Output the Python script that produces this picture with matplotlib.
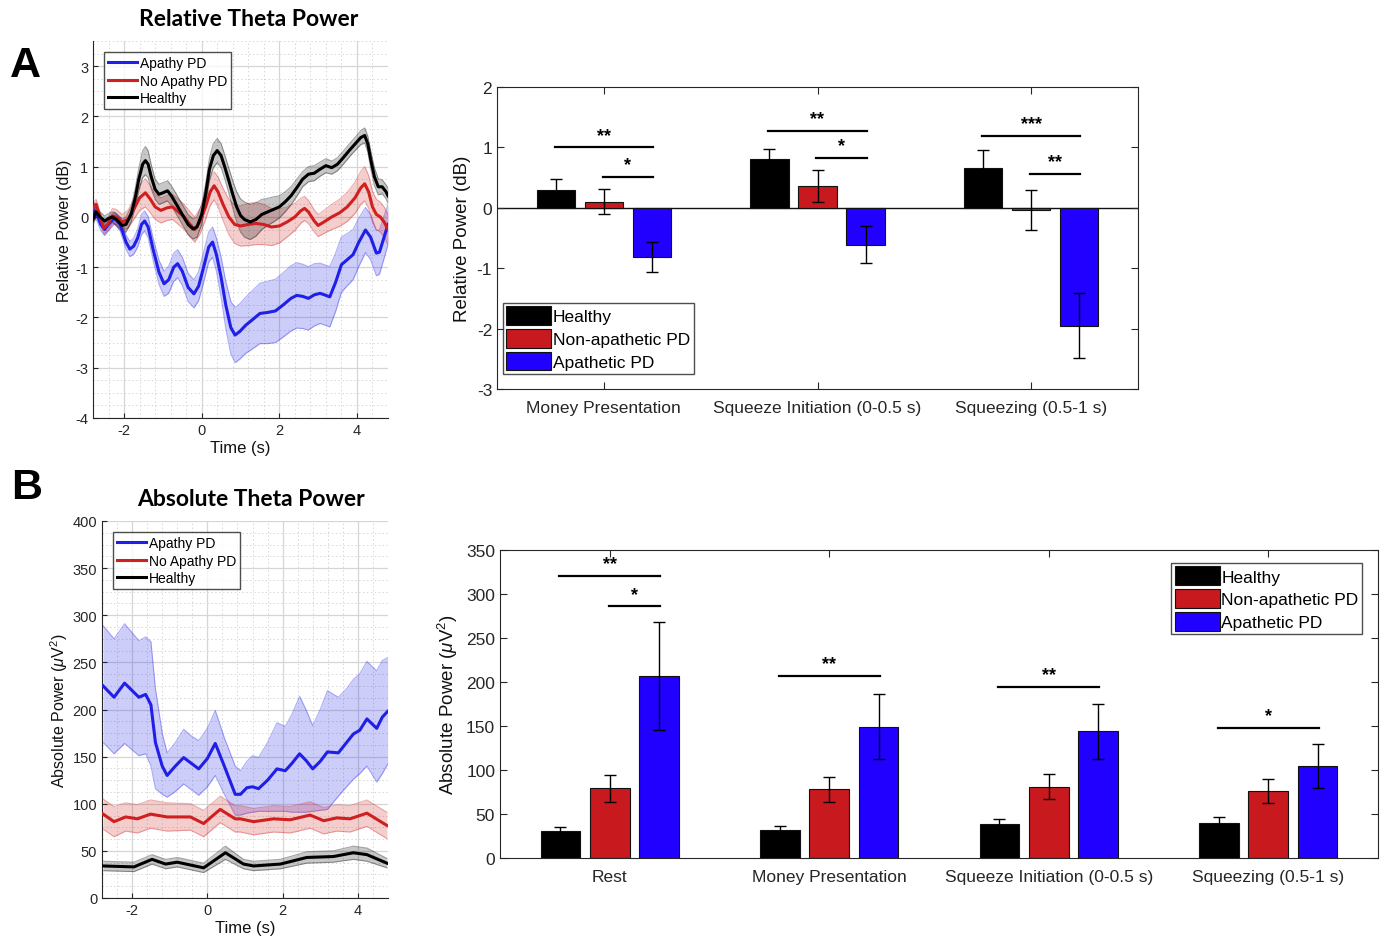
import numpy as np
import matplotlib
matplotlib.use('Agg')
import matplotlib.pyplot as plt
from matplotlib.ticker import MultipleLocator

plt.rcParams['font.family'] = ['Liberation Sans', 'DejaVu Sans']
plt.rcParams['mathtext.fontset'] = 'custom'
plt.rcParams['mathtext.rm'] = 'Liberation Sans'
plt.rcParams['mathtext.it'] = 'Liberation Sans:italic'
plt.rcParams['axes.unicode_minus'] = False

# colours
c_blue_line = '#1f1fe8'
c_red_line = '#d01f1f'
c_black = '#000000'
c_bar = ['#000000', '#c8191e', '#2200ff']
txt = '#262626'

# ---- A: relative theta power time courses (dB)
relA_black_t = [-2.8, -2.72, -2.62, -2.5, -2.4, -2.3, -2.2, -2.05, -1.95, -1.82, -1.72, -1.62, -1.52, -1.45,
                -1.38, -1.3, -1.2, -1.1, -1.0, -0.88, -0.78, -0.65, -0.5, -0.35, -0.22, -0.12, 0.0, 0.1,
                0.2, 0.3, 0.4, 0.5, 0.6, 0.7, 0.8, 0.9, 1.0, 1.1, 1.25, 1.4, 1.55, 1.7, 1.85, 2.0, 2.15,
                2.3, 2.45, 2.6, 2.75, 2.9, 3.05, 3.2, 3.35, 3.5, 3.65, 3.8, 3.95, 4.1, 4.2, 4.28, 4.36,
                4.45, 4.55, 4.65, 4.75, 4.8]
relA_black = [-0.05, 0.1, 0.0, -0.08, -0.03, 0.0, -0.05, -0.17, -0.15, 0.05, 0.35, 0.75, 1.05, 1.12,
              1.05, 0.8, 0.55, 0.45, 0.48, 0.52, 0.42, 0.25, 0.05, -0.15, -0.24, -0.2, 0.05, 0.45,
              0.95, 1.22, 1.32, 1.22, 0.98, 0.72, 0.45, 0.2, 0.03, -0.05, -0.1, -0.05, 0.05, 0.1, 0.15, 0.2, 0.3,
              0.42, 0.58, 0.75, 0.85, 0.87, 0.95, 1.02, 0.98, 1.05, 1.18, 1.32, 1.45, 1.58, 1.62, 1.45, 1.12,
              0.8, 0.6, 0.6, 0.5, 0.42]
relA_black_err = [0.1, 0.1, 0.1, 0.1, 0.1, 0.1, 0.12, 0.13, 0.15, 0.15, 0.18, 0.22, 0.27, 0.28,
                  0.27, 0.24, 0.2, 0.2, 0.2, 0.2, 0.2, 0.2, 0.2, 0.2, 0.2, 0.2, 0.2, 0.2,
                  0.22, 0.24, 0.24, 0.24, 0.24, 0.25, 0.27, 0.3, 0.33, 0.35, 0.35, 0.33, 0.3, 0.27, 0.25, 0.22, 0.2,
                  0.18, 0.17, 0.15, 0.15, 0.15, 0.14, 0.14, 0.13, 0.13, 0.13, 0.13, 0.13, 0.14, 0.15, 0.16, 0.18,
                  0.18, 0.16, 0.14, 0.14, 0.15]

relA_red_t = [-2.8, -2.72, -2.62, -2.52, -2.42, -2.3, -2.2, -2.05, -1.9, -1.75, -1.6, -1.45, -1.32, -1.2,
              -1.05, -0.9, -0.75, -0.6, -0.45, -0.3, -0.18, -0.05, 0.1, 0.22, 0.32, 0.42, 0.55, 0.7,
              0.85, 1.0, 1.2, 1.4, 1.6, 1.8, 2.0, 2.2, 2.4, 2.55, 2.65, 2.75, 2.9, 3.0, 3.15, 3.35,
              3.55, 3.75, 3.95, 4.1, 4.2, 4.3, 4.4, 4.5, 4.6, 4.7, 4.8]
relA_red = [0.17, 0.25, 0.0, -0.22, -0.15, 0.02, 0.0, -0.1, -0.05, 0.15, 0.38, 0.48, 0.35, 0.2,
            0.13, 0.18, 0.2, 0.1, 0.0, -0.15, -0.25, -0.1, 0.2, 0.5, 0.62, 0.5, 0.25, 0.0,
            -0.15, -0.18, -0.15, -0.13, -0.15, -0.2, -0.18, -0.1, 0.0, 0.12, 0.17, 0.1, -0.08, -0.17, -0.1, 0.0,
            0.08, 0.2, 0.38, 0.58, 0.66, 0.5, 0.2, 0.05, 0.0, -0.1, -0.25]
relA_red_err = [0.1, 0.1, 0.1, 0.12, 0.12, 0.15, 0.15, 0.15, 0.18, 0.2, 0.25, 0.28, 0.27, 0.25,
                0.25, 0.25, 0.25, 0.25, 0.25, 0.25, 0.25, 0.25, 0.25, 0.27, 0.28, 0.3, 0.32, 0.35,
                0.38, 0.4, 0.42, 0.42, 0.4, 0.37, 0.34, 0.3, 0.27, 0.25, 0.24, 0.23, 0.22, 0.22, 0.23, 0.25,
                0.27, 0.29, 0.31, 0.33, 0.34, 0.33, 0.31, 0.3, 0.3, 0.3, 0.3]

relA_blue_t = [-2.8, -2.7, -2.6, -2.5, -2.4, -2.25, -2.1, -1.95, -1.85, -1.75, -1.65, -1.55, -1.47, -1.38,
               -1.25, -1.1, -0.97, -0.85, -0.72, -0.62, -0.5, -0.35, -0.2, -0.08, 0.05, 0.18, 0.28, 0.38,
               0.5, 0.62, 0.75, 0.86, 0.98, 1.14, 1.3, 1.5, 1.7, 1.9, 2.1, 2.3, 2.45, 2.6, 2.75, 2.9,
               3.05, 3.2, 3.3, 3.45, 3.6, 3.75, 3.9, 4.05, 4.22, 4.35, 4.5, 4.58, 4.7, 4.8]
relA_blue = [0.17, 0.05, -0.15, -0.25, -0.15, -0.02, -0.15, -0.5, -0.64, -0.58, -0.42, -0.15, -0.08, -0.2,
             -0.65, -1.1, -1.33, -1.25, -1.0, -0.93, -1.08, -1.4, -1.53, -1.38, -1.0, -0.6, -0.5, -0.75,
             -1.2, -1.75, -2.2, -2.35, -2.28, -2.15, -2.05, -1.92, -1.9, -1.87, -1.75, -1.62, -1.56, -1.58, -1.62, -1.55,
             -1.52, -1.56, -1.59, -1.3, -0.95, -0.85, -0.75, -0.5, -0.26, -0.4, -0.72, -0.7, -0.4, -0.15]
relA_blue_err = [0.15, 0.13, 0.12, 0.12, 0.12, 0.12, 0.13, 0.14, 0.15, 0.16, 0.18, 0.2, 0.2, 0.21,
                 0.22, 0.24, 0.25, 0.27, 0.28, 0.28, 0.28, 0.28, 0.28, 0.29, 0.3, 0.3, 0.3, 0.33,
                 0.4, 0.47, 0.52, 0.55, 0.55, 0.56, 0.58, 0.6, 0.62, 0.63, 0.64, 0.65, 0.65, 0.64, 0.63, 0.62,
                 0.6, 0.6, 0.6, 0.58, 0.55, 0.52, 0.5, 0.48, 0.45, 0.45, 0.45, 0.44, 0.42, 0.4]

# ---- B: absolute theta power time courses (uV^2)
absB_blue_t = [-2.77, -2.48, -2.2, -1.82, -1.64, -1.5, -1.38, -1.2, -1.07, -0.85, -0.63, -0.43, -0.23, 0.0,
               0.21, 0.45, 0.74, 0.88, 1.05, 1.2, 1.36, 1.6, 1.85, 2.07, 2.25, 2.45, 2.62, 2.8, 3.0,
               3.19, 3.48, 3.7, 3.88, 4.05, 4.24, 4.5, 4.65, 4.79]
absB_blue = [225, 213, 228, 213, 216, 205, 165, 140, 130, 140, 149, 143, 137, 148,
             164, 140, 110, 110, 117, 118, 116, 125, 137, 135, 143, 153, 146, 137, 145,
             155, 154, 165, 174, 178, 190, 180, 192, 198]
absB_blue_hi = [289, 275, 291, 273, 277, 272, 222, 175, 154, 165, 179, 172, 167, 180,
                199, 170, 140, 135, 145, 151, 149, 165, 186, 182, 195, 214, 200, 183, 200,
                220, 213, 222, 232, 238, 251, 241, 252, 255]
absB_blue_lo = [165, 153, 164, 151, 153, 140, 116, 110, 107, 113, 121, 115, 109, 118,
                130, 110, 88, 88, 90, 91, 92, 92, 92, 92, 91, 91, 91, 92, 93,
                94, 108, 118, 126, 132, 140, 123, 132, 142]

absB_red_t = [-2.77, -2.48, -2.17, -1.86, -1.51, -1.07, -0.45, -0.1, 0.34, 0.74, 0.875, 1.23, 1.76, 2.2,
              2.73, 3.09, 3.44, 3.79, 4.24, 4.77]
absB_red = [89, 81, 86, 84, 89, 86, 86, 79, 94, 84, 84, 81, 84, 83, 88, 82, 85, 84, 90, 77]
absB_red_err = [16, 16, 15, 15, 15, 15, 14, 14, 14, 14, 14, 14, 14, 14, 14, 14, 14, 14, 14, 14]

absB_black_t = [-2.77, -1.95, -1.47, -1.11, -0.8, -0.1, 0.48, 0.96, 1.23, 1.94, 2.64, 3.35, 3.88, 4.24, 4.77]
absB_black = [34, 33, 41, 36, 38, 32, 48, 36, 34, 36, 43, 44, 48, 46, 37]
absB_black_err = [5, 5, 5, 5, 5, 5, 7, 5, 5, 5, 6, 6, 7, 7, 5]

# ---- bar data
groups = ['Healthy', 'Non-apathetic PD', 'Apathetic PD']

relBar_cats = ['Money Presentation', 'Squeeze Initiation (0-0.5 s)', 'Squeezing (0.5-1 s)']
relBar_healthy = [0.30, 0.80, 0.66]
relBar_healthy_err = [0.18, 0.18, 0.29]
relBar_nonap = [0.10, 0.36, -0.03]
relBar_nonap_err = [0.21, 0.27, 0.33]
relBar_apath = [-0.82, -0.61, -1.95]
relBar_apath_err = [0.25, 0.31, 0.54]
# significance: (category index, from-bar, to-bar, y, label)
relBar_sig = [(0, 0, 2, 1.00, '**'), (0, 1, 2, 0.51, '*'),
              (1, 0, 2, 1.27, '**'), (1, 1, 2, 0.83, '*'),
              (2, 0, 2, 1.19, '***'), (2, 1, 2, 0.56, '**')]

absBar_cats = ['Rest', 'Money Presentation', 'Squeeze Initiation (0-0.5 s)', 'Squeezing (0.5-1 s)']
absBar_healthy = [31, 32, 39, 40]
absBar_healthy_err = [4, 4, 5, 7]
absBar_nonap = [79, 78, 81, 76]
absBar_nonap_err = [15, 14, 14, 14]
absBar_apath = [207, 149, 144, 104]
absBar_apath_err = [61, 37, 31, 25]
absBar_sig = [(0, 0, 2, 321, '**'), (0, 1, 2, 286, '*'),
              (1, 0, 2, 207, '**'), (2, 0, 2, 194, '**'), (3, 0, 2, 148, '*')]

W, H = 1387, 945
fig = plt.figure(figsize=(W / 100, H / 100), dpi=100)


def frac(l, t, r, b):
    return [l / W, 1 - b / H, (r - l) / W, (b - t) / H]


def line_panel(ax, series, ylim, ymajor, yminor, ylabel):
    for t, v, lo, hi, col, lab in series:
        ax.fill_between(t, lo, hi, color=col, alpha=0.22, lw=0, zorder=2)
        ax.plot(t, hi, color=col, alpha=0.35, lw=0.8, zorder=2)
        ax.plot(t, lo, color=col, alpha=0.35, lw=0.8, zorder=2)
    handles = []
    for t, v, lo, hi, col, lab in series:
        h, = ax.plot(t, v, color=col, lw=2.2, zorder=3, label=lab, solid_joinstyle='round')
        handles.append(h)
    ax.set_xlim(-2.8, 4.8)
    ax.set_ylim(*ylim)
    ax.xaxis.set_major_locator(MultipleLocator(2))
    ax.xaxis.set_minor_locator(MultipleLocator(0.4))
    ax.yaxis.set_major_locator(MultipleLocator(ymajor))
    ax.yaxis.set_minor_locator(MultipleLocator(yminor))
    ax.grid(True, which='major', color='#d6d6d6', lw=0.9)
    ax.grid(True, which='minor', color='#d6d6d6', lw=0.7, ls=(0, (1.5, 2.5)))
    ax.set_axisbelow(True)
    for s in ['top', 'right']:
        ax.spines[s].set_visible(False)
    for s in ['left', 'bottom']:
        ax.spines[s].set_color(txt)
    ax.tick_params(which='both', direction='in', labelsize=10.5, colors=txt)
    ax.tick_params(which='minor', length=0)
    ax.set_xlabel('Time (s)', fontsize=12, color='#111111', labelpad=2)
    ax.set_ylabel(ylabel, fontsize=11.5, color='#111111', labelpad=2)
    leg = ax.legend(handles=handles, loc='upper left', fontsize=10, frameon=True, fancybox=False,
                    edgecolor='#222222', handlelength=2.1, handletextpad=0.15, borderpad=0.3,
                    labelspacing=0.25, borderaxespad=0.8)
    leg.get_frame().set_linewidth(1.0)


def sym(t, v, e):
    v = np.array(v, float); e = np.array(e, float)
    return t, v, v - e, v + e


def bar_panel(ax, cats, vals, errs, sig, ylim, ystep, ylabel, legloc, legpos):
    x = np.arange(1, len(cats) + 1)
    offs = [-0.225, 0.0, 0.225]
    bw = 0.18
    for k in range(3):
        ax.bar(x + offs[k], vals[k], bw, color=c_bar[k], edgecolor='#111111', lw=0.8,
               label=groups[k], zorder=2)
        ax.errorbar(x + offs[k], vals[k], yerr=errs[k], fmt='none', ecolor='black', elinewidth=1.0,
                    capsize=4, capthick=1.0, zorder=3)
    span = ylim[1] - ylim[0]
    for ci, a, b, y, lab in sig:
        x0 = x[ci] + offs[a] - 0.005
        x1 = x[ci] + offs[b] + 0.005
        ax.plot([x0, x1], [y, y], color='black', lw=1.6, zorder=4)
        ax.text((x0 + x1) / 2, y + span * 0.012, lab, ha='center', va='bottom', fontsize=13,
                fontweight='bold', zorder=4)
    ax.set_xlim(0.5, len(cats) + 0.5)
    ax.set_ylim(*ylim)
    ax.set_xticks(x)
    ax.set_xticklabels(cats)
    ax.yaxis.set_major_locator(MultipleLocator(ystep))
    ax.tick_params(direction='in', top=True, right=True, labelsize=12.5, colors=txt, length=5)
    ax.tick_params(axis='x', pad=8)
    for s in ax.spines.values():
        s.set_color(txt)
    ax.set_ylabel(ylabel, fontsize=13.5, color='#111111')
    leg = ax.legend(loc=legloc, bbox_to_anchor=legpos, fontsize=12.5, frameon=True, fancybox=False,
                    edgecolor='#222222', handlelength=2.6, handleheight=1.3, handletextpad=0.1,
                    borderpad=0.2, labelspacing=0.22, borderaxespad=0)
    leg.get_frame().set_linewidth(1.0)


# A line
axA = fig.add_axes(frac(93, 42, 388, 419))
line_panel(axA, [sym(relA_blue_t, relA_blue, relA_blue_err) + (c_blue_line, 'Apathy PD'),
                 sym(relA_red_t, relA_red, relA_red_err) + (c_red_line, 'No Apathy PD'),
                 sym(relA_black_t, relA_black, relA_black_err) + (c_black, 'Healthy')],
           (-4, 3.5), 1, 0.25, 'Relative Power (dB)')
axA.set_yticks([-4, -3, -2, -1, 0, 1, 2, 3])

# B line
axB = fig.add_axes(frac(102, 522, 388, 899))
line_panel(axB, [(absB_blue_t, absB_blue, absB_blue_lo, absB_blue_hi, c_blue_line, 'Apathy PD'),
                 sym(absB_red_t, absB_red, absB_red_err) + (c_red_line, 'No Apathy PD'),
                 sym(absB_black_t, absB_black, absB_black_err) + (c_black, 'Healthy')],
           (0, 400), 50, 12.5, r'Absolute Power ($\mu$V$^2$)')

# A bar
axAb = fig.add_axes(frac(497, 88, 1138, 390))
bar_panel(axAb, relBar_cats,
          [relBar_healthy, relBar_nonap, relBar_apath],
          [relBar_healthy_err, relBar_nonap_err, relBar_apath_err],
          relBar_sig, (-3, 2), 1, 'Relative Power (dB)', 'lower left', (0.009, 0.05))
axAb.axhline(0, color='#111111', lw=1.0, zorder=1.5)

# B bar
axBb = fig.add_axes(frac(500, 551, 1378, 859))
bar_panel(axBb, absBar_cats,
          [absBar_healthy, absBar_nonap, absBar_apath],
          [absBar_healthy_err, absBar_nonap_err, absBar_apath_err],
          absBar_sig, (0, 350), 50, r'Absolute Power ($\mu$V$^2$)', 'upper right', (0.982, 0.958))

fig.text(249 / W, 1 - 20 / H, 'Relative Theta Power', fontsize=16.5, fontweight='bold',
         family=['Lato', 'DejaVu Sans'], ha='center', va='center')
fig.text(251 / W, 1 - 499 / H, 'Absolute Theta Power', fontsize=16.5, fontweight='bold',
         family=['Lato', 'DejaVu Sans'], ha='center', va='center')
fig.text(25 / W, 1 - 66 / H, 'A', fontsize=31, fontweight='bold', ha='center', va='center')
fig.text(27 / W, 1 - 488 / H, 'B', fontsize=31, fontweight='bold', ha='center', va='center')

fig.savefig('out.png', dpi=100)
